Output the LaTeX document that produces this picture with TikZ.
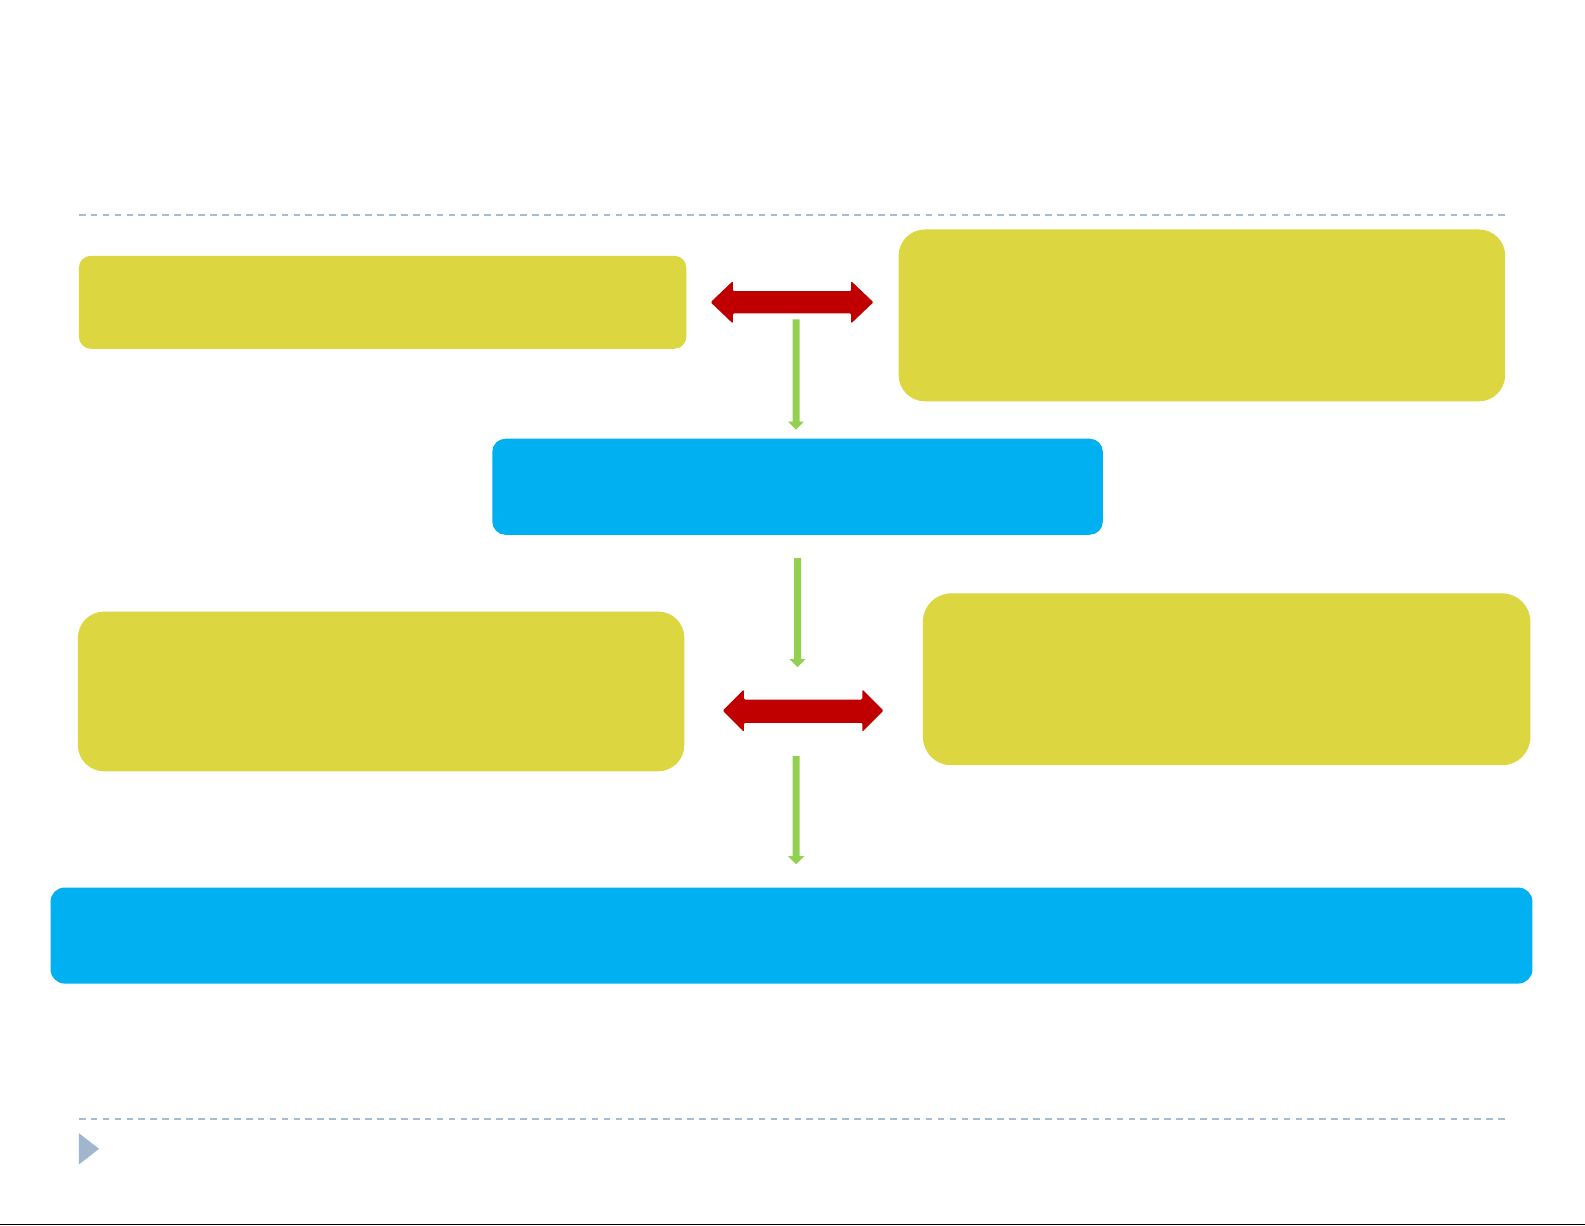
\documentclass[tikz,border=0pt]{standalone}
\usetikzlibrary{fit}
\definecolor{ygreen}{HTML}{DCD640}
\definecolor{cblue}{HTML}{00B0F0}
\definecolor{cred}{HTML}{C00000}
\definecolor{cgreen}{HTML}{92D050}
\definecolor{rulecol}{HTML}{A6BCD2}
\definecolor{tricol}{HTML}{9FB6CD}
\tikzset{
  ybox/.style={fill=ygreen, draw=none, inner sep=0pt},
  bbox/.style={fill=cblue, draw=none, inner sep=0pt},
  redarr/.style={fill=cred, draw=none, rounded corners=0.6pt},
  greenarr/.style={fill=cgreen, draw=none},
  sepline/.style={draw=rulecol, line width=1pt, dash pattern=on 3.3pt off 2.6pt}
}
\begin{document}
\begin{tikzpicture}[x=0.5pt,y=-0.5pt]
\useasboundingbox (0,0) rectangle (1568,1212);
\fill[white] (0,0) rectangle (1568,1212);
% separator lines
\draw[sepline] (78,213) -- (1490,213);
\draw[sepline] (78,1107) -- (1490,1107);
% triangle marker
\fill[tricol] (78,1121) -- (98,1136.5) -- (78,1152) -- cycle;
% bottom edge line
\draw[black, line width=0.6pt] (0,1211) -- (1568,1211);
% boxes
\node[ybox, rounded corners=6pt, fit={(78,253) (679,345)}] (tl) {};
\node[ybox, rounded corners=13pt, fit={(889,227) (1489,397)}] (tr) {};
\node[bbox, rounded corners=6.5pt, fit={(487,434) (1091,529)}] (mid) {};
\node[ybox, rounded corners=13pt, fit={(77,605) (677,763)}] (ml) {};
\node[ybox, rounded corners=14pt, fit={(913,587) (1514,757)}] (mr) {};
\node[bbox, rounded corners=7pt, fit={(50,878) (1516,973)}] (bot) {};
% red double arrows
\fill[redarr] (703,299) -- (725,278) -- (725,288) -- (842,288) -- (842,278) -- (864,299)
  -- (842,320) -- (842,310) -- (725,310) -- (725,320) -- cycle;
\fill[redarr] (715,703) -- (736,682) -- (736,692) -- (853,692) -- (853,682) -- (874,703)
  -- (853,724) -- (853,715) -- (736,715) -- (736,724) -- cycle;
% green arrows
\fill[greenarr] (784,316) -- (791,316) -- (791,417) -- (795.5,417) -- (787.5,425) -- (779.5,417) -- (784,417) -- cycle;
\fill[greenarr] (785.5,552) -- (792.5,552) -- (792.5,652) -- (797,652) -- (789,660) -- (781,652) -- (785.5,652) -- cycle;
\fill[greenarr] (784,748) -- (791,748) -- (791,847) -- (795.5,847) -- (787.5,855) -- (779.5,847) -- (784,847) -- cycle;
\end{tikzpicture}
\end{document}
